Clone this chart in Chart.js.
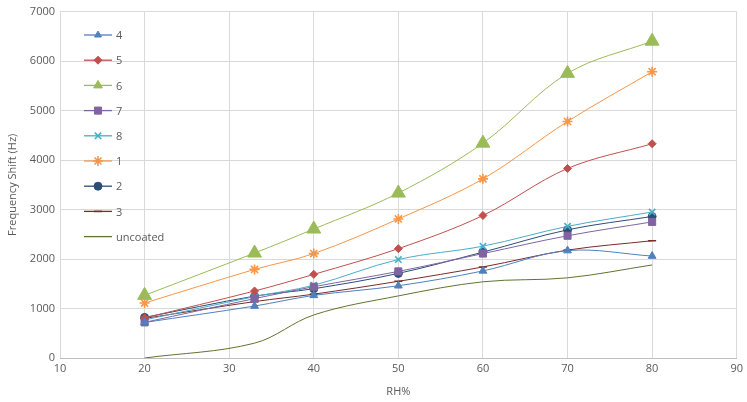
<!DOCTYPE html>
<html>
<head>
	<meta charset="UTF-8">
	<title>Frequency Shift</title>
	<script src="https://cdn.jsdelivr.net/npm/chart.js@4.4.0/dist/chart.umd.min.js"></script>
	<style>
		body { margin:0; padding:0; overflow:hidden; background:#fff; }
		#wrap { width:747px; height:402px; position:relative; }
	</style>
</head>
<body>
	<div id="wrap"><canvas id="chart"></canvas></div>
	<script>
		// RH% values where each coating was measured
		const rh = [20, 33, 40, 50, 60, 70, 80];
		const s4 = [718, 1050, 1265, 1460, 1760, 2170, 2060];
		const s5 = [810, 1354, 1690, 2210, 2880, 3830, 4330];
		const s6 = [1266, 2121, 2606, 3333, 4342, 5752, 6403];
		const s7 = [720, 1200, 1440, 1750, 2110, 2470, 2750];
		const s8 = [770, 1240, 1470, 1990, 2260, 2660, 2950];
		const s1 = [1110, 1790, 2110, 2810, 3620, 4780, 5785];
		const s2 = [820, 1250, 1400, 1710, 2140, 2590, 2860];
		const s3 = [800, 1140, 1290, 1550, 1840, 2180, 2370];
		const uncoated = [0, 300, 870, 1255, 1540, 1620, 1880];
		const xTicks = [10, 20, 30, 40, 50, 60, 70, 80, 90];
		const yTicks = [0, 1000, 2000, 3000, 4000, 5000, 6000, 7000];

		const txt = '#595959';
		const font = "'Open Sans', 'DejaVu Sans', sans-serif";

		function pts(ys) {
			return rh.map((x, i) => ({x: x, y: ys[i]}));
		}

		function series(label, ys, color, style, r, lr) {
			return {
				label: label,
				data: pts(ys),
				borderColor: color,
				backgroundColor: color,
				borderWidth: 1,
				pointStyle: style,
				pointRadius: r,
				pointBorderWidth: style == 'line' || style == 'crossRot' || style == 'star' ? 1.6 : 1,
				legendRadius: lr,
				tension: 0.35
			};
		}

		const datasets = [
			series('4', s4, '#4F81BD', 'triangle', 4.5, 4),
			series('5', s5, '#C0504D', 'rectRot', 4, 4),
			series('6', s6, '#9BBB59', 'triangle', 8, 5),
			series('7', s7, '#8064A2', 'rect', 5, 5),
			series('8', s8, '#4BACC6', 'crossRot', 4.5, 4.5),
			series('1', s1, '#F79646', 'star', 5, 5),
			series('2', s2, '#2C4D75', 'circle', 4, 4),
			series('3', s3, '#772C2A', 'line', 4, 4),
			series('uncoated', uncoated, '#5F7530', false, 0, 0)
		];

		// legend drawn inside the plot, line + marker like the original
		const insideLegend = {
			id: 'insideLegend',
			afterDraw(chart) {
				const ctx = chart.ctx;
				ctx.save();
				chart.data.datasets.forEach((ds, i) => {
					const y = 35 + i * 25.2;
					ctx.strokeStyle = ds.borderColor;
					ctx.fillStyle = ds.borderColor;
					ctx.lineWidth = 1.3;
					ctx.beginPath();
					ctx.moveTo(84, y);
					ctx.lineTo(112, y);
					ctx.stroke();
					if (ds.pointStyle && ds.legendRadius > 0) {
						ctx.lineWidth = ds.pointBorderWidth;
						Chart.helpers.drawPoint(ctx, {pointStyle: ds.pointStyle, radius: ds.legendRadius, rotation: 0, borderWidth: ds.pointBorderWidth}, 98, y);
					}
					ctx.fillStyle = txt;
					ctx.font = '11px ' + font;
					ctx.textBaseline = 'middle';
					ctx.textAlign = 'left';
					ctx.fillText(ds.label, 116, y + 1);
				});
				ctx.restore();
			}
		};

		const ctx = document.getElementById('chart').getContext('2d');
		new Chart(ctx, {
			type: 'line',
			data: { datasets: datasets },
			options: {
				responsive: true,
				maintainAspectRatio: false,
				animation: false,
				layout: { padding: { top: 10, right: 10, left: 2, bottom: 0 } },
				plugins: {
					legend: { display: false },
					tooltip: { enabled: false }
				},
				scales: {
					x: {
						type: 'linear',
						min: 10,
						max: 90,
						afterBuildTicks: s => { s.ticks = xTicks.map(v => ({value: v})); },
						afterFit: s => { s.height = 44; },
						grid: { color: '#D9D9D9', drawTicks: false },
						border: { color: '#BFBFBF' },
						ticks: { color: txt, padding: 4, font: { family: font, size: 11 }, callback: v => String(v) },
						title: { display: true, text: 'RH%', color: txt, padding: { top: 4 }, font: { family: font, size: 11 } }
					},
					y: {
						min: 0,
						max: 7000,
						afterBuildTicks: s => { s.ticks = yTicks.map(v => ({value: v})); },
						afterFit: s => { s.width = 58; },
						grid: { color: '#D9D9D9', drawTicks: false },
						border: { display: false },
						ticks: { color: txt, padding: 5, font: { family: font, size: 11 }, callback: v => String(v) },
						title: { display: true, text: 'Frequency Shift (Hz)', color: txt, padding: { bottom: 2 }, font: { family: font, size: 11 } }
					}
				}
			},
			plugins: [insideLegend]
		});
	</script>
</body>
</html>
